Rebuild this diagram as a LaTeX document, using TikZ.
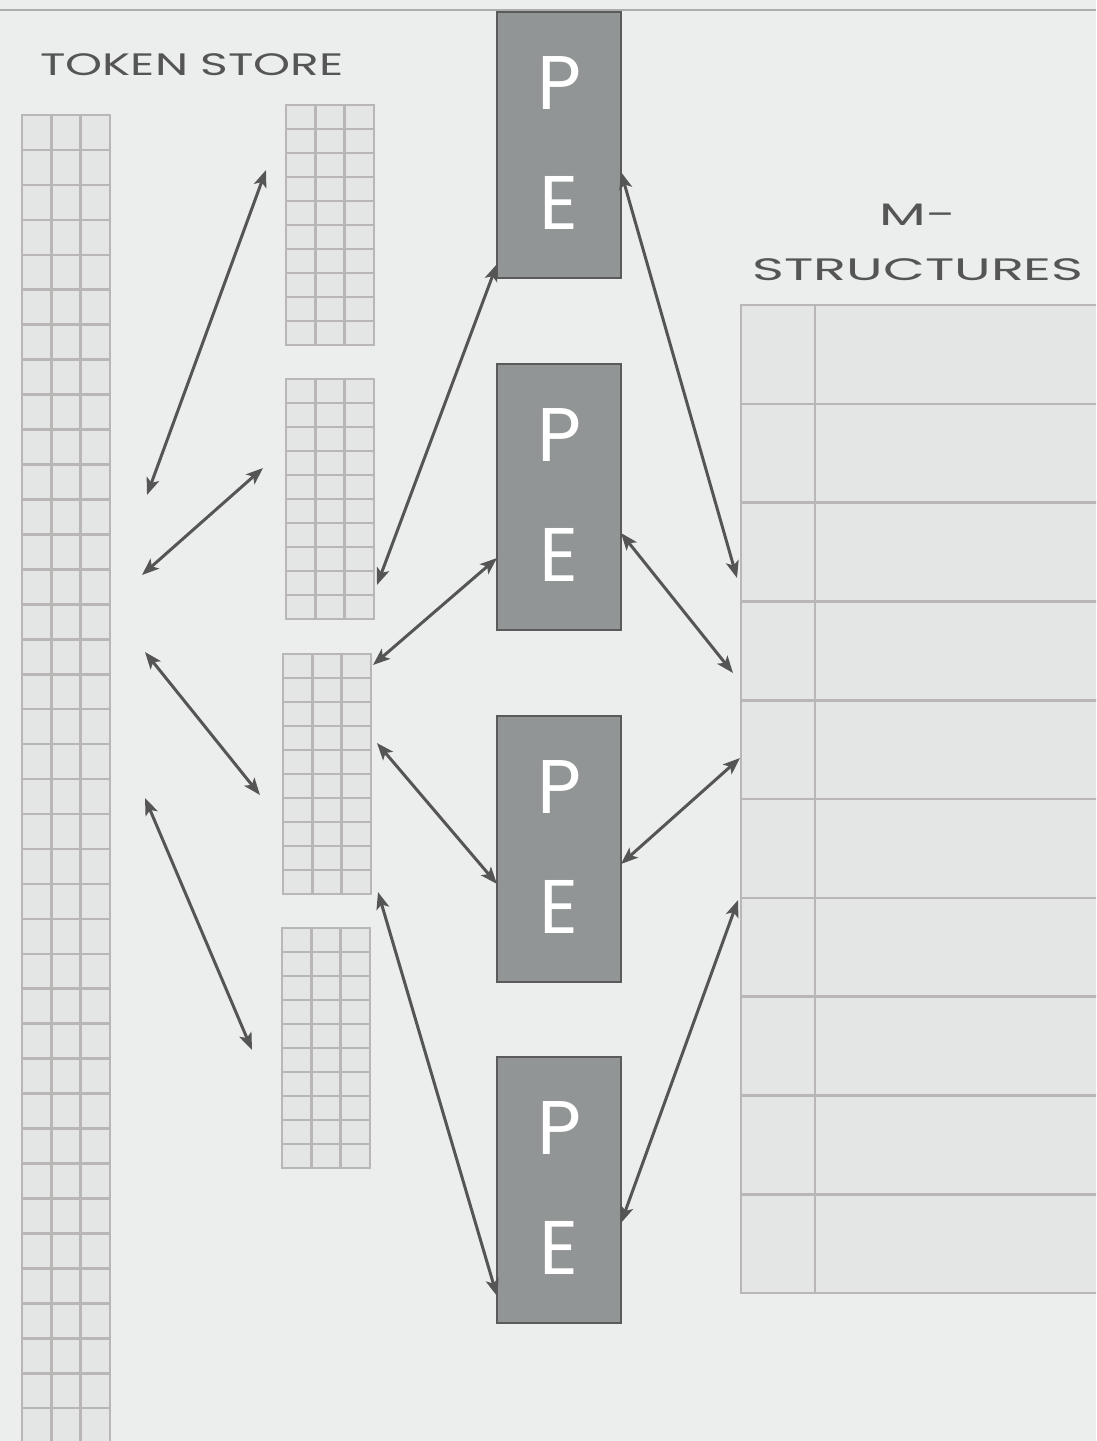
\documentclass[tikz,border=0pt]{standalone}
\usepackage{fontspec}
\setmainfont{Poppins}
\usetikzlibrary{arrows.meta, positioning}

\definecolor{paper}{HTML}{ECEEED}
\definecolor{cellfill}{HTML}{E4E6E6}
\definecolor{cellline}{HTML}{B9B6B6}
\definecolor{pefill}{HTML}{929595}
\definecolor{peline}{HTML}{5A5A5A}
\definecolor{ink}{HTML}{555555}

% #1 name, #2 left, #3 top, #4 rows, #5 row height
\newcommand{\cellgrid}[5]{%
  \node[gridbox, minimum height=#4*#5pt, anchor=north west] (#1) at (#2,#3) {};
  \foreach \col in {1,2}
    \draw[gridline] ([xshift=\col*29.33pt]#1.north west) -- ([xshift=\col*29.33pt]#1.south west);
  \pgfmathtruncatemacro{\lastrow}{#4-1}
  \foreach \row in {1,...,\lastrow}
    \draw[gridline] ([yshift=-\row*#5pt]#1.north west) -- ([yshift=-\row*#5pt]#1.north east);
}

\begin{document}
\begin{tikzpicture}[x=1pt, y=-1pt, >={Stealth[length=17pt, width=13pt, inset=4pt]},
  gridbox/.style={draw=cellline, fill=cellfill, line width=2.6pt, minimum width=88pt, inner sep=0pt, outer sep=0pt},
  gridline/.style={draw=cellline, line width=2.6pt},
  pebox/.style={draw=peline, fill=pefill, line width=2.8pt, minimum width=124pt, minimum height=266pt, inner sep=0pt, outer sep=0pt},
  petext/.style={text=white, font=\fontsize{76}{76}\selectfont},
  heading/.style={text=ink, font=\fontsize{31}{55}\selectfont, align=center},
  link/.style={<->, draw=ink, line width=3pt}]
\useasboundingbox (0,0) rectangle (1096,1441);
\fill[paper] (0,0) rectangle (1096,1441);
\clip (0,0) rectangle (1096,1441);
\draw[gray, line width=2pt, opacity=0.6] (0,10) -- (1096,10);

% token store
\node[heading] (tshead) at (192,65) {\scalebox{1.52}[1]{TOKEN STORE}};
\cellgrid{store}{22}{115}{38}{34.95}
\cellgrid{g1}{286}{105}{10}{24}
\cellgrid{g2}{286}{379}{10}{24}
\cellgrid{g3}{283}{654}{10}{24}
\cellgrid{g4}{282}{928}{10}{24}

% PE
\node[pebox] (pe1) at (559,145) {};
\node[pebox, below=86pt of pe1] (pe2) {};
\node[pebox, below=86pt of pe2] (pe3) {};
\node[pebox, below=75pt of pe3] (pe4) {};
\foreach \n in {1,...,4} {
  \node[petext] (p\n) at ([yshift=62pt]pe\n.center) {P};
  \node[petext] (e\n) at ([yshift=-58pt]pe\n.center) {E};
}

% M-structures
\node[heading] (mhead) at (918,242) {\scalebox{1.75}[1]{M-}\\\scalebox{1.75}[1]{STRUCTURES}};
\node[gridbox, minimum width=380pt, minimum height=988pt, anchor=north west] (mtab) at (741,305) {};
\draw[gridline] ([xshift=74pt]mtab.north west) -- ([xshift=74pt]mtab.south west);
\foreach \row in {1,...,9}
  \draw[gridline] ([yshift=-\row*98.8pt]mtab.north west) -- ([yshift=-\row*98.8pt]mtab.north east);

% arrow ends
\coordinate (t1) at (147,495);
\coordinate (t2) at (142,575);
\coordinate (t3) at (145,652);
\coordinate (t4) at (145,798);
\coordinate (s1) at (266,170);
\coordinate (s2) at (263,468);
\coordinate (s3) at (260,795);
\coordinate (s4) at (252,1050);
\coordinate (r2) at (377,585);
\coordinate (r3a) at (373,665);
\coordinate (r3b) at (377,743);
\coordinate (r3c) at (378,892);
\coordinate (m1) at (737,578);
\coordinate (m2) at (733,673);
\coordinate (m3) at (740,758);
\coordinate (m4) at (738,900);

\draw[link] (t1) -- (s1);
\draw[link] (t2) -- (s2);
\draw[link] (t3) -- (s3);
\draw[link] (t4) -- (s4);
\draw[link] (r2) -- ([yshift=14pt]pe1.south west);
\draw[link] (r3a) -- ([yshift=-61pt]pe2.west);
\draw[link] (r3b) -- ([yshift=-35pt]pe3.west);
\draw[link] (r3c) -- ([yshift=-106pt]pe4.west);
\draw[link] ([yshift=-27pt]pe1.east) -- (m1);
\draw[link] ([yshift=-36pt]pe2.east) -- (m2);
\draw[link] ([yshift=-15pt]pe3.east) -- (m3);
\draw[link] ([yshift=-33pt]pe4.east) -- (m4);
\end{tikzpicture}
\end{document}
